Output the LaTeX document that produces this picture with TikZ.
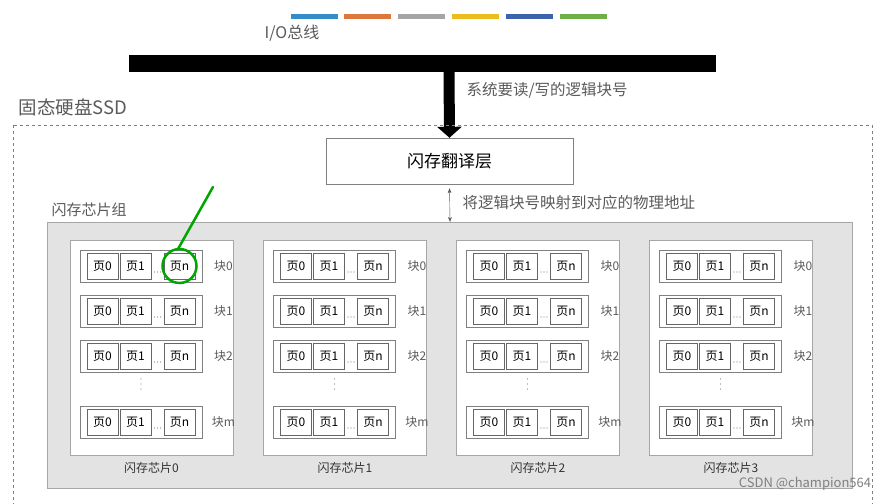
\documentclass[tikz,border=0pt]{standalone}
\usepackage{fontspec}
\setmainfont{Noto Sans CJK SC}
\usetikzlibrary{arrows.meta}
\definecolor{gtxt}{RGB}{90,90,90}
\tikzset{
 page/.style={draw=gray!80!black,fill=white,minimum width=31pt,minimum height=26pt,inner sep=0pt,font=\fontsize{12}{12}\selectfont},
 blk/.style={draw=gray,fill=white,minimum width=122pt,minimum height=32pt,inner sep=0pt},
 chip/.style={draw=gray!70,fill=white,minimum width=163pt,minimum height=215pt,inner sep=0pt},
 lbl/.style={font=\fontsize{12}{12}\selectfont,text=gtxt},
 dot/.style={fill=gray,circle,inner sep=0pt,minimum size=1.3pt},
}
\begin{document}
\begin{tikzpicture}[x=1pt,y=-1pt]
\useasboundingbox (0,0) rectangle (885,503);
\foreach \c/\x in {{52,140,200}/291,{220,120,60}/344,{165,165,165}/398,{235,190,30}/452,{60,100,170}/506,{110,175,70}/560}{
 \definecolor{bc}{RGB}{\c}\fill[bc] (\x,14) rectangle ++(47,5);}
\node[font=\fontsize{16}{16}\selectfont,text=gtxt] (io) at (292,33) {I/O总线};
\fill (129,55) rectangle (716,72);
\coordinate (bus) at (449,72);
\node[draw=gray,minimum width=247pt,minimum height=46pt,font=\fontsize{17}{17}\selectfont] (ftl) at (449.5,161) {闪存翻译层};
\draw[line width=11pt,-{Triangle[width=24pt,length=11pt]}] (bus) -- (ftl.north);
\node[anchor=west,font=\fontsize{15.5}{15.5}\selectfont,text=gtxt] (l1) at (463,90) {系统要读/写的逻辑块号};
\node[anchor=west,font=\fontsize{18.5}{18.5}\selectfont,text=gtxt] (ssd) at (15,107) {固态硬盘SSD};
\draw[dashed,gray] (13,125) rectangle (872,510);
\node[anchor=west,font=\fontsize{15}{15}\selectfont,text=gtxt] (ml) at (48,210) {闪存芯片组};
\node[draw=gray!70,fill=gray!22,minimum width=805pt,minimum height=266pt,inner sep=0pt] (grp) at (449.5,355) {};
\coordinate (ga) at (450,222);
\draw[{Stealth[length=5pt]}-{Stealth[length=5pt]},gray!70!black] (ftl.south) ++(0,4) -- (ga);
\node[anchor=west,font=\fontsize{15.5}{15.5}\selectfont,text=gtxt] (l2) at (459,203) {将逻辑块号映射到对应的物理地址};
\foreach \i/\cx in {0/151.5,1/345,2/538,3/731}{
 \node[chip] (c\i) at (\cx,347.5) {};
 \node[lbl,text=black!80] (cl\i) at (\cx,468) {闪存芯片\i};
 \foreach \r/\y/\b in {0/266/0,1/311/1,2/356/2,3/422/m}{
  \node[blk] (b\i\r) at (\cx-10.5,\y) {};
  \node[page] (p\i\r a) at (\cx-49,\y) {页0};
  \node[page] (p\i\r b) at (\cx-16,\y) {页1};
  \node[page] (p\i\r n) at (\cx+28,\y) {页n};
  \foreach \d in {-1,0,1} \node[dot] at (\cx+6+3*\d,\y+6) {};
  \node[lbl] (bl\i\r) at (\cx+72,\y) {块\b};
 }
 \foreach \d in {-1,0,1} \node[dot] at (\cx-10.5,384+5*\d) {};
}
\draw[green!65!black,line width=2.5pt,line cap=round] (213,187) -- (178,249);
\draw[green!65!black,line width=2.5pt] (p00n) ellipse (17pt and 17pt);
\node[font=\fontsize{13}{13}\selectfont,text=gray] (csdn) at (805,484) {CSDN @champion564};
\end{tikzpicture}
\end{document}
